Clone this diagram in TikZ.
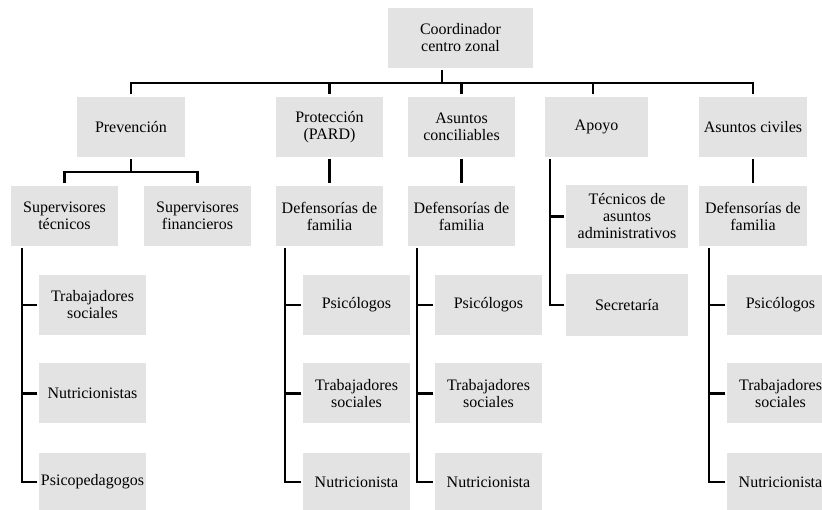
\documentclass[tikz,border=0pt]{standalone}
\usepackage{fontspec}
\setmainfont{Liberation Serif}
\definecolor{boxgray}{RGB}{227,227,227}
\begin{document}
\begin{tikzpicture}[x=1pt,y=-1pt,
  box/.style={fill=boxgray, inner sep=0pt, outer sep=2.5pt, align=center,
    font=\fontsize{16}{17}\selectfont, minimum height=60pt, minimum width=107pt},
  link/.style={draw=black, line width=2.3pt}]
\path[use as bounding box] (0,0) rectangle (822,510);
\clip (0,0) rectangle (822,510);

% level 0
\node[box, minimum width=145pt] (top) at (460.5,38) {Coordinador\\centro zonal};

% level 1
\node[box, minimum width=108pt] (prev) at (131,127) {Prevención};
\node[box] (prot) at (329.5,127) {Protección\\(PARD)};
\node[box] (conc) at (461.5,127) {Asuntos\\conciliables};
\node[box, minimum width=103pt] (apoyo) at (596.5,127) {Apoyo};
\node[box, minimum width=108pt] (civ) at (753,127) {Asuntos civiles};

% level 2
\node[box] (st) at (64.5,216) {Supervisores\\técnicos};
\node[box] (sf) at (197.5,216) {Supervisores\\financieros};
\node[box] (df1) at (329.5,216) {Defensorías de\\familia};
\node[box] (df2) at (461.5,216) {Defensorías de\\familia};
\node[box, minimum width=108pt] (df3) at (753,216) {Defensorías de\\familia};
\node[box, minimum width=122pt, minimum height=63pt] (tec) at (627,216.5) {Técnicos de\\asuntos\\administrativos};
\node[box, minimum width=122pt, minimum height=62pt] (sec) at (627,305) {Secretaría};

% level 3
\node[box] (a1) at (92.5,305) {Trabajadores\\sociales};
\node[box] (a2) at (92.5,393.5) {Nutricionistas};
\node[box, minimum height=58pt] (a3) at (92.5,482) {Psicopedagogos};

\node[box] (b1) at (356.5,305) {Psicólogos};
\node[box] (b2) at (356.5,393.5) {Trabajadores\\sociales};
\node[box, minimum height=58pt] (b3) at (356.5,482) {Nutricionista};

\node[box] (c1) at (488.5,305) {Psicólogos};
\node[box] (c2) at (488.5,393.5) {Trabajadores\\sociales};
\node[box, minimum height=58pt] (c3) at (488.5,482) {Nutricionista};

\node[box] (d1) at (780.5,305) {Psicólogos};
\node[box] (d2) at (780.5,393.5) {Trabajadores\\sociales};
\node[box, minimum height=58pt] (d3) at (780.5,482) {Nutricionista};

% helper coordinates
\coordinate (topstem) at (442,0);
\coordinate (bus) at (0,83);
\coordinate (pbus) at (0,172);
\coordinate (apsp) at (550,0);
\coordinate (spA) at (22,0);
\coordinate (spB) at (285,0);
\coordinate (spC) at (417,0);
\coordinate (spD) at (709,0);

% top bus
\draw[link] (top.south -| topstem) -- (bus -| topstem);
\draw[link] (prev.north) -- (prev.north |- bus) -- (civ.north |- bus) -- (civ.north);
\draw[link] (prot.north) -- (prot.north |- bus);
\draw[link] (conc.north) -- (conc.north |- bus);
\draw[link] ([xshift=-3.5pt]apoyo.north) -- ([xshift=-3.5pt]apoyo.north |- bus);

% prevención
\draw[link] (prev.south) -- (prev.south |- pbus);
\draw[link] (st.north) -- (st.north |- pbus) -- (sf.north |- pbus) -- (sf.north);

% straight links
\draw[link] (prot.south) -- (df1.north);
\draw[link] (conc.south) -- (df2.north);
\draw[link] (civ.south) -- (df3.north);

% apoyo
\draw[link] (apoyo.south -| apsp) -- (sec.west -| apsp) -- (sec.west);
\draw[link] (tec.west -| apsp) -- (tec.west);

% lists
\draw[link] (st.south -| spA) -- (a3.west -| spA) -- (a3.west);
\draw[link] (a1.west -| spA) -- (a1.west);
\draw[link] (a2.west -| spA) -- (a2.west);

\draw[link] (df1.south -| spB) -- (b3.west -| spB) -- (b3.west);
\draw[link] (b1.west -| spB) -- (b1.west);
\draw[link] (b2.west -| spB) -- (b2.west);

\draw[link] (df2.south -| spC) -- (c3.west -| spC) -- (c3.west);
\draw[link] (c1.west -| spC) -- (c1.west);
\draw[link] (c2.west -| spC) -- (c2.west);

\draw[link] (df3.south -| spD) -- (d3.west -| spD) -- (d3.west);
\draw[link] (d1.west -| spD) -- (d1.west);
\draw[link] (d2.west -| spD) -- (d2.west);
\end{tikzpicture}
\end{document}
